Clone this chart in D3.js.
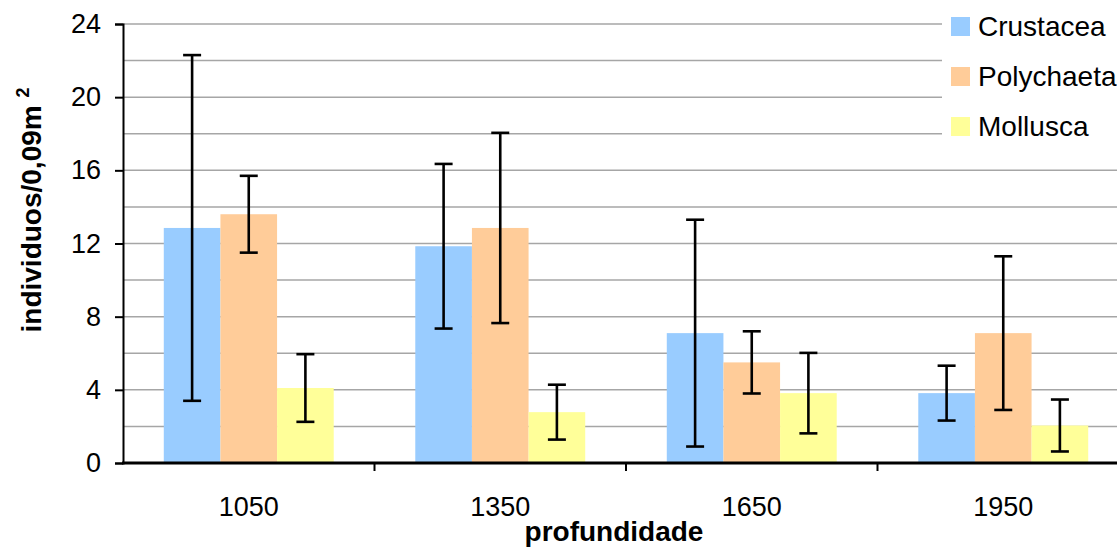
<!DOCTYPE html>
<html><head><meta charset="utf-8">
<script src="https://cdn.jsdelivr.net/npm/d3@7"></script>
<style>body{margin:0;background:#fff}svg{display:block}</style>
</head><body><svg id="c" width="1117" height="549"></svg>
<script>
const categories = ["1050","1350","1650","1950"];
const seriesNames = ["Crustacea","Polychaeta","Mollusca"];
const crustacea = [12.85, 11.85, 7.1, 3.82];
const polychaeta = [13.6, 12.85, 5.5, 7.1];
const mollusca = [4.1, 2.78, 3.82, 2.05];
const crustaceaErr = [9.45, 4.5, 6.2, 1.5];
const polychaetaErr = [2.1, 5.2, 1.7, 4.2];
const molluscaErr = [1.85, 1.5, 2.2, 1.42];
const yTicks = [0,4,8,12,16,20,24];
const colors = ["#99CCFF","#FFCC99","#FFFF99"];

const values = [crustacea, polychaeta, mollusca];
const errs = [crustaceaErr, polychaetaErr, molluscaErr];
const svg = d3.select("#c");
const L = 123, T = 24, B = 463, R = 1129;
const font = "Arial, 'Liberation Sans', sans-serif";

const x = d3.scaleBand().domain(categories).range([L, R]).paddingInner(0).paddingOuter(0);
const xs = d3.scaleBand().domain(seriesNames).range([0, x.bandwidth()]).paddingInner(0).paddingOuter(0.72);
const y = d3.scaleLinear().domain([0,24]).range([B, T]);

// gridlines every 2
const grid = d3.range(2, 25, 2);
svg.append("g").selectAll("line").data(grid).join("line")
  .attr("x1", L).attr("x2", 1117).attr("y1", d=>y(d)).attr("y2", d=>y(d))
  .attr("stroke", "#a6a6a6").attr("stroke-width", 1.5);

// bars
seriesNames.forEach((s, si) => {
  svg.append("g").selectAll("rect").data(categories).join("rect")
    .attr("x", c => x(c) + xs(s)).attr("width", xs.bandwidth())
    .attr("y", (c,i) => y(values[si][i])).attr("height", (c,i) => B - y(values[si][i]))
    .attr("fill", colors[si]);
});
// error bars
seriesNames.forEach((s, si) => {
  const g = svg.append("g").attr("stroke", "#000").attr("stroke-width", 2.6);
  categories.forEach((c, i) => {
    const cx = x(c) + xs(s) + xs.bandwidth()/2;
    const v = values[si][i], e = errs[si][i];
    g.append("line").attr("x1", cx).attr("x2", cx).attr("y1", y(v+e)).attr("y2", y(v-e));
    g.append("line").attr("x1", cx-9).attr("x2", cx+9).attr("y1", y(v+e)).attr("y2", y(v+e));
    g.append("line").attr("x1", cx-9).attr("x2", cx+9).attr("y1", y(v-e)).attr("y2", y(v-e));
  });
});

// y axis
const yAxis = svg.append("g").attr("transform", `translate(${L},0)`)
  .call(d3.axisLeft(y).tickValues(yTicks).tickSize(8).tickPadding(14));
yAxis.attr("font-size", null).attr("font-family", null);
yAxis.select(".domain").attr("stroke", "#000").attr("stroke-width", 2);
yAxis.selectAll(".tick line").attr("stroke", "#000").attr("stroke-width", 2);
yAxis.selectAll("text").style("font-family", font).style("font-size", "27px").attr("fill", "#000");

// x axis
const xAxis = svg.append("g").attr("transform", `translate(0,${B})`)
  .call(d3.axisBottom(x).tickSize(0).tickPadding(0));
xAxis.attr("font-size", null).attr("font-family", null);
xAxis.select(".domain").remove();
xAxis.selectAll("text").attr("dy", null).attr("y", 53).style("font-family", font).style("font-size", "27px").attr("fill", "#000");
svg.append("line").attr("x1", L-1).attr("x2", 1117).attr("y1", B).attr("y2", B).attr("stroke", "#000").attr("stroke-width", 3);
svg.append("g").selectAll("line").data(categories.slice(1)).join("line")
  .attr("x1", d=>x(d)).attr("x2", d=>x(d)).attr("y1", B).attr("y2", B+8)
  .attr("stroke", "#000").attr("stroke-width", 2);

// titles
svg.append("text").attr("x", 614).attr("y", 541).attr("text-anchor", "middle")
  .style("font-family", font).style("font-size", "28px").attr("font-weight", "bold").text("profundidade");
const yt = svg.append("text").attr("transform", "translate(41,210) rotate(-90)").attr("text-anchor", "middle")
  .style("font-family", font).style("font-size", "28px").attr("font-weight", "bold");
yt.append("tspan").text("individuos/0,09m ");
yt.append("tspan").style("font-size", "18px").attr("dy", -12).text("2");

// legend
const lg = svg.append("g");
lg.append("rect").attr("x", 942).attr("y", 0).attr("width", 175).attr("height", 150).attr("fill", "#fff");
seriesNames.forEach((s, i) => {
  const cy = 26.5 + i*50;
  lg.append("rect").attr("x", 951).attr("y", cy-9.5).attr("width", 19).attr("height", 19).attr("fill", colors[i]);
  lg.append("text").attr("x", 978).attr("y", cy+9.5).style("font-family", font).style("font-size", "28px").attr("fill", "#000").text(s);
});
</script></body></html>
